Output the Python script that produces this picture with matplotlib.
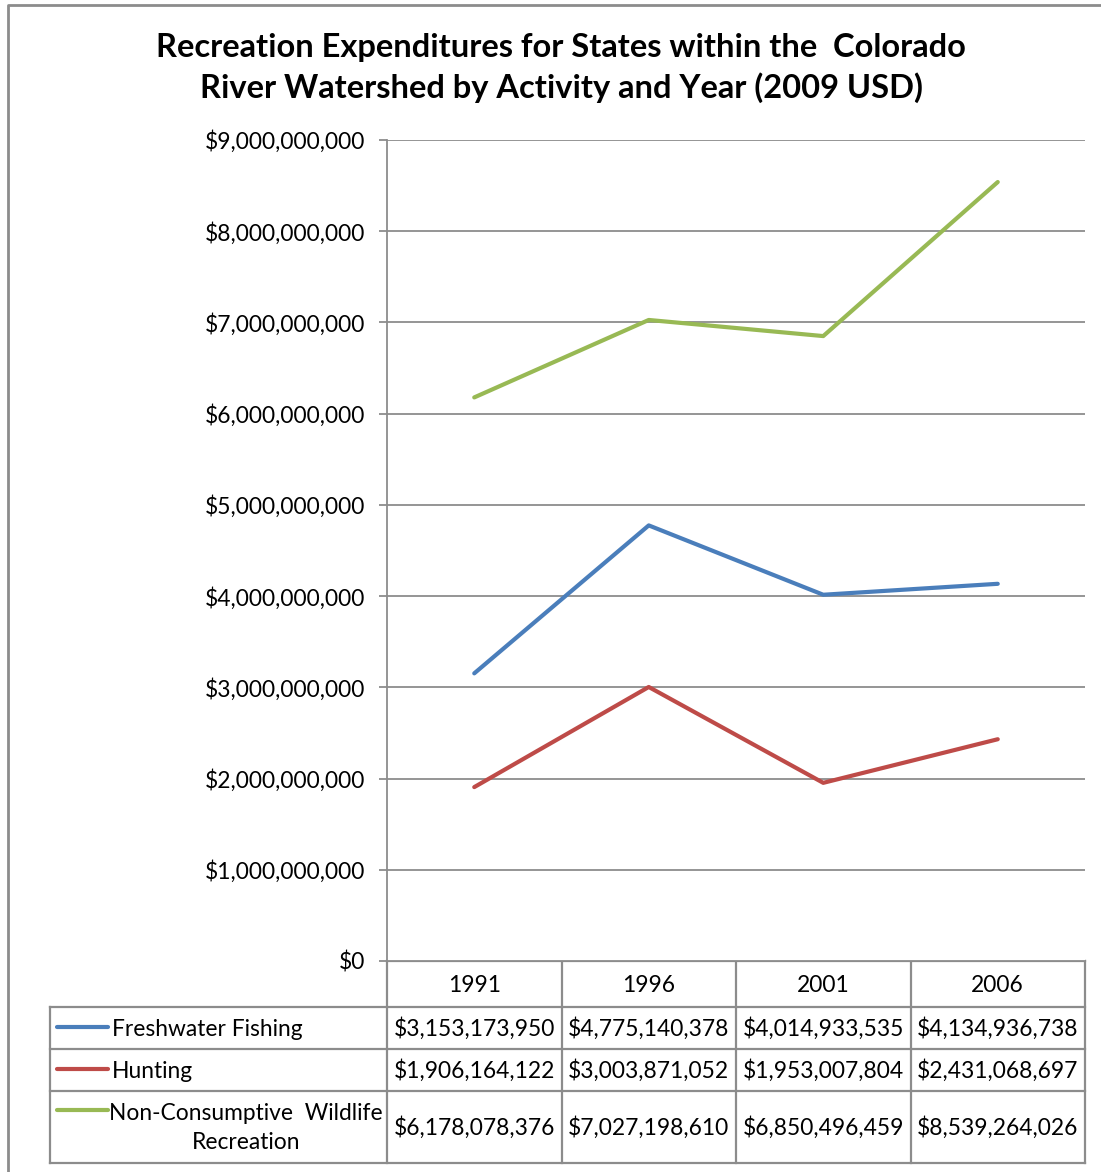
import matplotlib.pyplot as plt
from matplotlib.ticker import FuncFormatter

years = ["1991", "1996", "2001", "2006"]
series_names = ["Freshwater Fishing", "Hunting", "Non-Consumptive  Wildlife\nRecreation"]
fishing = [3153173950, 4775140378, 4014933535, 4134936738]
hunting = [1906164122, 3003871052, 1953007804, 2431068697]
wildlife = [6178078376, 7027198610, 6850496459, 8539264026]
colors = ["#4a7ebb", "#be4b48", "#98b954"]

plt.rcParams['font.family'] = ['Lato', 'DejaVu Sans']

W, H = 1101, 1172
fig = plt.figure(figsize=(W / 100, H / 100), dpi=100)

# overlay in pixel coords for border and table
over = fig.add_axes([0, 0, 1, 1])
over.set_xlim(0, W)
over.set_ylim(H, 0)
over.axis("off")

# plot area
x0, x1, y0, y1 = 387, 1085, 140, 961
ax = fig.add_axes([x0 / W, 1 - y1 / H, (x1 - x0) / W, (y1 - y0) / H])
data = [fishing, hunting, wildlife]
for vals, c in zip(data, colors):
    ax.plot(range(len(years)), vals, color=c, lw=3, solid_capstyle="round", zorder=3)
ax.set_xlim(-0.5, len(years) - 0.5)
ax.set_ylim(0, 9e9)
ax.set_yticks([i * 1e9 for i in range(10)])
ax.yaxis.set_major_formatter(FuncFormatter(lambda v, p: "${:,.0f}".format(v)))
ax.set_xticks([])
ax.grid(axis="y", color="#8c8c8c", lw=1.3)
for s in ["top", "right", "bottom"]:
    ax.spines[s].set_visible(False)
ax.spines["left"].set_color("#8c8c8c")
ax.spines["left"].set_linewidth(1.3)
ax.tick_params(axis="y", length=6, width=1.3, color="#8c8c8c", labelsize=16.4, pad=10)

# chart border
gray = "#8c8c8c"
over.plot([8, 8, W], [H, 5, 5], color=gray, lw=2)

fig.text(561 / W, 1 - 68 / H,
         "Recreation Expenditures for States within the  Colorado\nRiver Watershed by Activity and Year (2009 USD)",
         ha="center", va="center", fontsize=23.5, fontweight="bold", linespacing=1.38)

# data table
col_w = (x1 - x0) / len(years)
row_edges = [961, 1007, 1049, 1091, 1163]
lab_x = 50
tc = "#8c8c8c"
tw = 1.6
# horizontal lines
over.plot([x0, x1], [row_edges[0]] * 2, color=tc, lw=tw)
for y in row_edges[1:]:
    over.plot([lab_x, x1], [y, y], color=tc, lw=tw)
# vertical lines
for i in range(len(years) + 1):
    xx = x0 + i * col_w
    over.plot([xx, xx], [row_edges[0], row_edges[-1]], color=tc, lw=tw)
over.plot([lab_x, lab_x], [row_edges[1], row_edges[-1]], color=tc, lw=tw)

fs = 16.4
for i, yr in enumerate(years):
    over.text(x0 + (i + 0.5) * col_w, (row_edges[0] + row_edges[1]) / 2 + 1, yr,
              ha="center", va="center", fontsize=fs)

for r, (name, vals, c) in enumerate(zip(series_names, data, colors)):
    top, bot = row_edges[r + 1], row_edges[r + 2]
    mid = (top + bot) / 2 + 1
    for i, v in enumerate(vals):
        over.text(x0 + (i + 0.5) * col_w, mid, "${:,}".format(v),
                  ha="center", va="center", fontsize=fs)
    if "\n" in name:
        key_y = top + 19
        over.text(246, mid, name, ha="center", va="center", fontsize=fs,
                  linespacing=1.5)
    else:
        key_y = mid - 2
        over.text(112, mid, name, ha="left", va="center", fontsize=fs)
    over.plot([57, 108], [key_y, key_y], color=c, lw=3, solid_capstyle="round")

fig.savefig("out.png", dpi=100)
